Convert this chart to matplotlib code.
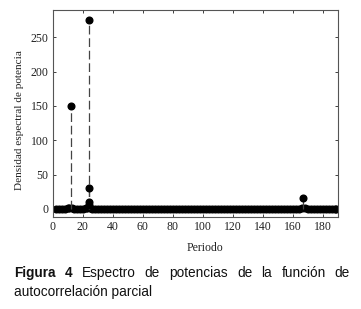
import matplotlib
matplotlib.use("Agg")
import matplotlib.pyplot as plt

# Dominant spectral peaks (period, power)
peak_periods = [12, 24, 24, 24, 24, 167]
peak_values = [150, 276, 30, 10, 5, 16]

# Background periodogram points (all near zero)
background_periods = [2, 4, 6, 8, 10, 11, 13, 14, 16, 18, 20, 22, 23, 25, 26, 28, 30, 32,
                      34, 36, 38, 40, 42, 44, 46, 48, 50, 52, 54, 56, 58, 60, 62, 64, 66,
                      68, 70, 72, 74, 76, 78, 80, 82, 84, 86, 88, 90, 92, 94, 96, 98, 100,
                      102, 104, 106, 108, 110, 112, 114, 116, 118, 120, 122, 124, 126, 128,
                      130, 132, 134, 136, 138, 140, 142, 144, 146, 148, 150, 152, 154, 156,
                      158, 160, 162, 164, 166, 168, 170, 172, 174, 176, 178, 180, 182, 184,
                      186, 188, 189]
background_values = [0.3, 0.1, 0.4, 0.2, 0.5, 1.2, 0.8, 0.3, 0.2, 0.4, 0.1, 0.6, 1.5, 0.9,
                     0.4, 0.2, 0.1, 0.3, 0.2, 0.1, 0.2, 0.3, 0.1, 0.2, 0.1, 0.1, 0.2, 0.1,
                     0.0, 0.1, 0.2, 0.1, 0.0, 0.1, 0.1, 0.2, 0.1, 0.0, 0.1, 0.0, 0.1, 0.2,
                     0.3, 0.2, 0.0, -0.1, 0.0, 0.1, 0.0, 0.1, 0.2, 0.1, 0.0, 0.1, 0.0, 0.1,
                     0.0, 0.1, 0.0, 0.1, 0.0, 0.1, 0.2, 0.1, 0.0, 0.1, 0.0, 0.1, 0.0, 0.1,
                     0.0, 0.1, 0.0, 0.1, 0.0, 0.1, 0.0, 0.1, 0.0, 0.1, 0.0, 0.1, 0.2, 0.4,
                     0.8, 0.5, 0.1, 0.0, 0.1, 0.0, 0.1, 0.0, 0.1, 0.0, 0.1, 0.0, 0.1]

x_ticks = [0, 20, 40, 60, 80, 100, 120, 140, 160, 180]
y_ticks = [0, 50, 100, 150, 200, 250]

caption_words = [("Figura", "bold"), ("4", "bold"), ("Espectro", "normal"), ("de", "normal"),
                 ("potencias", "normal"), ("de", "normal"), ("la", "normal"),
                 ("función", "normal"), ("de", "normal")]
caption_line2 = "autocorrelación parcial"

W, H = 361, 309
fig = plt.figure(figsize=(W / 100, H / 100), dpi=100)
ax = fig.add_axes([52.5 / W, 1 - 217 / H, (337.7 - 52.5) / W, (217 - 10) / H])

serif = "Liberation Serif"

ax.vlines(background_periods, 0, background_values, colors="#222222", linewidth=0.8)
ax.plot(background_periods, background_values, "o", color="black", ms=4.8, mec="black")

ax.vlines(peak_periods, 0, peak_values, colors="#444444", linewidth=0.9,
          linestyles=(0, (7, 3)))
ax.plot(peak_periods, peak_values, "o", color="black", ms=4.8, mec="black")

ax.set_xlim(0, 190)
ax.set_ylim(-12, 290)
ax.set_xticks(x_ticks)
ax.set_yticks(y_ticks)
ax.tick_params(direction="in", length=2.5, width=0.6, top=True, right=True,
               labelsize=8.5, pad=3, colors="#222222")
for lab in ax.get_xticklabels() + ax.get_yticklabels():
    lab.set_fontfamily(serif)
for sp in ax.spines.values():
    sp.set_color("#555555")
    sp.set_linewidth(0.8)

ax.set_xlabel("Periodo", fontfamily=serif, fontsize=8.5, color="#222222")
ax.xaxis.set_label_coords((205 - 52.5) / (337.7 - 52.5), -0.12)
ax.set_ylabel("Densidad espectral de potencia", fontfamily=serif, fontsize=8.1,
              color="#222222")
ax.yaxis.set_label_coords(-0.1, 0.47)

# Justified first caption line
sans = "Liberation Sans"
fs = 9.8
renderer = fig.canvas.get_renderer()
texts = []
for w, wt in caption_words:
    t = fig.text(0, 1 - 273 / H, w, fontfamily=sans, fontweight=wt, fontsize=fs,
                 va="center", ha="left", color="#111111")
    texts.append(t)
widths = [t.get_window_extent(renderer).width for t in texts]
x0, x1 = 14, 350
gap = (x1 - x0 - sum(widths)) / (len(texts) - 1)
x = x0
for t, w in zip(texts, widths):
    t.set_x(x / W)
    x += w + gap

fig.text(14 / W, 1 - 292 / H, caption_line2, fontfamily=sans,
         fontsize=fs, va="center", ha="left", color="#111111")

fig.savefig("out.png", dpi=100)
